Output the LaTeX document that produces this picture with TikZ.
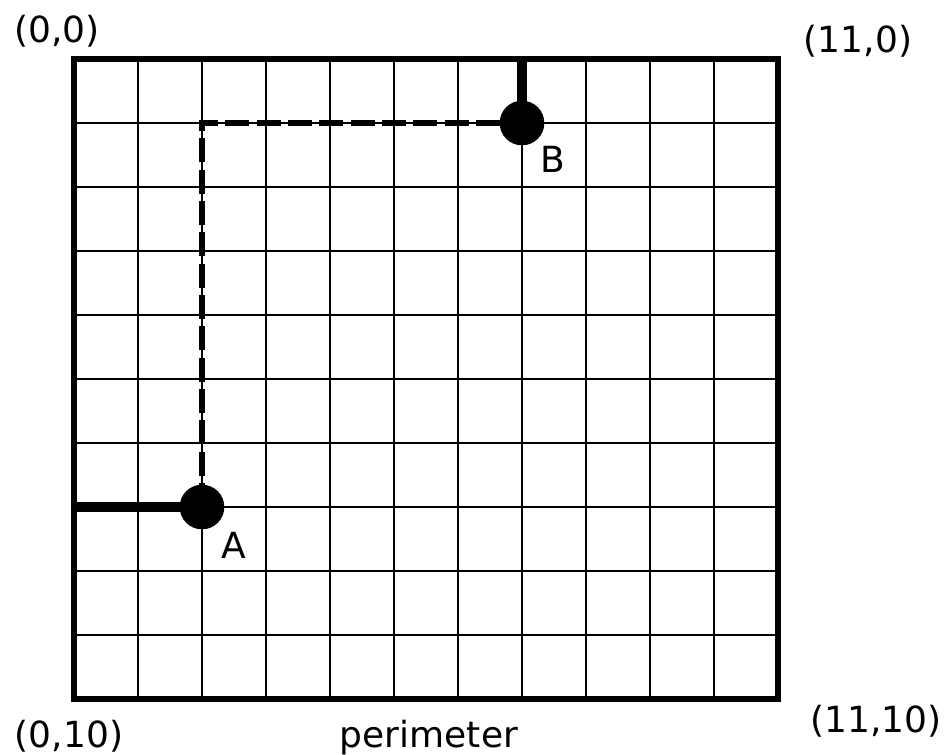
\documentclass[tikz,border=0pt]{standalone}
\usepackage{fontspec}
\setmainfont{DejaVu Sans}
\begin{document}
\begin{tikzpicture}[x=0.75pt,y=-0.75pt,
  lbl/.style={font=\fontsize{27}{32}\selectfont, anchor=base, inner sep=0pt},
  dotnode/.style={circle, fill=black, minimum size=33.5pt, inner sep=0pt},
  gridline/.style={line width=1.4pt, black},
  outerline/.style={line width=4.5pt, black},
  thickline/.style={line width=7.5pt, black},
  dashline/.style={line width=4pt, black, dash pattern=on 18pt off 5.5pt}]
\useasboundingbox (0,0) rectangle (949,754);
% grid
\foreach \i in {1,...,10} {
  \draw[gridline] ({74+64*\i},59) -- ({74+64*\i},699);
}
\foreach \j in {1,...,9} {
  \draw[gridline] (74,{59+64*\j}) -- (778,{59+64*\j});
}
\draw[outerline] (74,59) rectangle (778,699);
% points
\coordinate (A) at (202,507);
\coordinate (B) at (522,123);
\coordinate (Aend) at (74,507);
\coordinate (Bend) at (522,59);
\coordinate (turn) at (202,123);
\draw[dashline] (A) -- (turn) -- (B);
\draw[thickline] (Aend) -- (A);
\draw[thickline] (Bend) -- (B);
\node[dotnode] (dotA) at (A) {};
\node[dotnode] (dotB) at (B) {};
% labels
\node[lbl] (labA) at (234,558) {A};
\node[lbl] (labB) at (553,172) {B};
\node[lbl] (l00) at (57,42) {(0,0)};
\node[lbl] (l110) at (858,52) {(11,0)};
\node[lbl] (l010) at (69,747) {(0,10)};
\node[lbl] (l1110) at (876,732) {(11,10)};
\node[lbl] (per) at (429,747) {perimeter};
\end{tikzpicture}
\end{document}
